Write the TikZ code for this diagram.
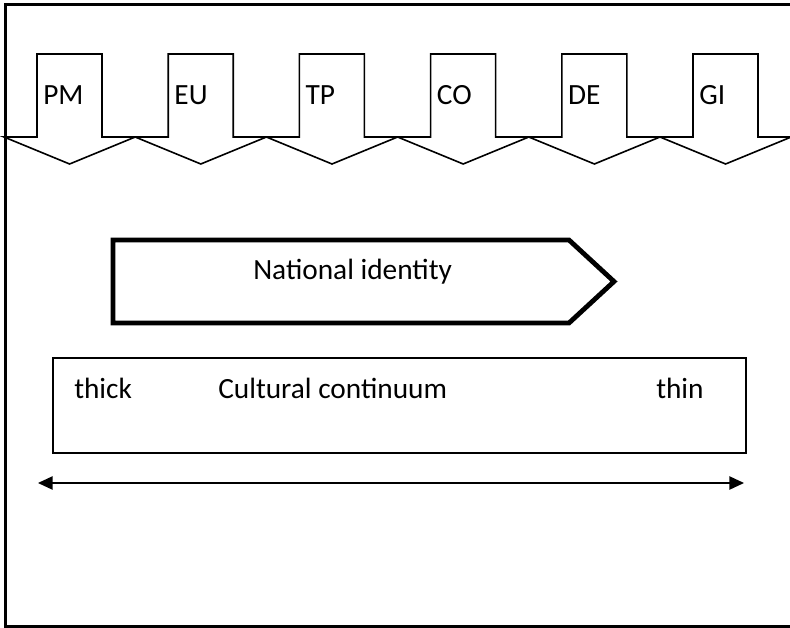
\documentclass[tikz,border=0pt]{standalone}
\usepackage{fontspec}
\setmainfont{Carlito}
\usetikzlibrary{arrows.meta,positioning,calc}
\tikzset{
  framebox/.style={line width=2.2pt},
  downarrow/.style={draw, line width=1.2pt, line join=miter},
  tag/.style={anchor=base west, inner sep=0pt, font=\fontsize{22pt}{26pt}\selectfont},
  identity/.style={draw, line width=3.6pt, line join=miter},
  continuum/.style={draw, line width=1.1pt},
  span/.style={{Triangle[length=11pt,width=10pt]}-{Triangle[length=11pt,width=10pt]}, line width=1.1pt}
}
\begin{document}
\begin{tikzpicture}[x=0.75pt,y=-0.75pt]
  \useasboundingbox (0,0) rectangle (790,628);
  % open frame (no right side)
  \draw[framebox] (790,4.5) -- (5.5,4.5) -- (5.5,626.5) -- (790,626.5);

  % row of block arrows
  \foreach \lbl [count=\i from 0] in {PM,EU,TP,CO,DE,GI} {
    \pgfmathsetmacro\xa{4+131.2*\i}
    \draw[downarrow] (\xa,137) -- ++(33,0) -- ++(0,-83) -- ++(65,0) -- ++(0,83)
      -- ++(33.2,0) -- ++(-65.6,27) -- cycle;
    \node[tag] (\lbl) at (\xa+39,104) {\lbl};
  }

  % national identity pointer
  \draw[identity] (113,240) -- (569,240) -- (614,281.5) -- (569,323) -- (113,323) -- cycle;
  \node[tag] (nation) at (253,279) {National identity};

  % cultural continuum
  \draw[continuum] (53,358) rectangle (746,453);
  \node[tag] (thick) at (74,398) {thick};
  \node[tag] (culture) at (218,398) {Cultural continuum};
  \node[tag] (thin) at (656,398) {thin};

  \coordinate (thickend) at (38,483);
  \coordinate (thinend) at (744,483);
  \draw[span] (thickend) -- (thinend);
\end{tikzpicture}
\end{document}
